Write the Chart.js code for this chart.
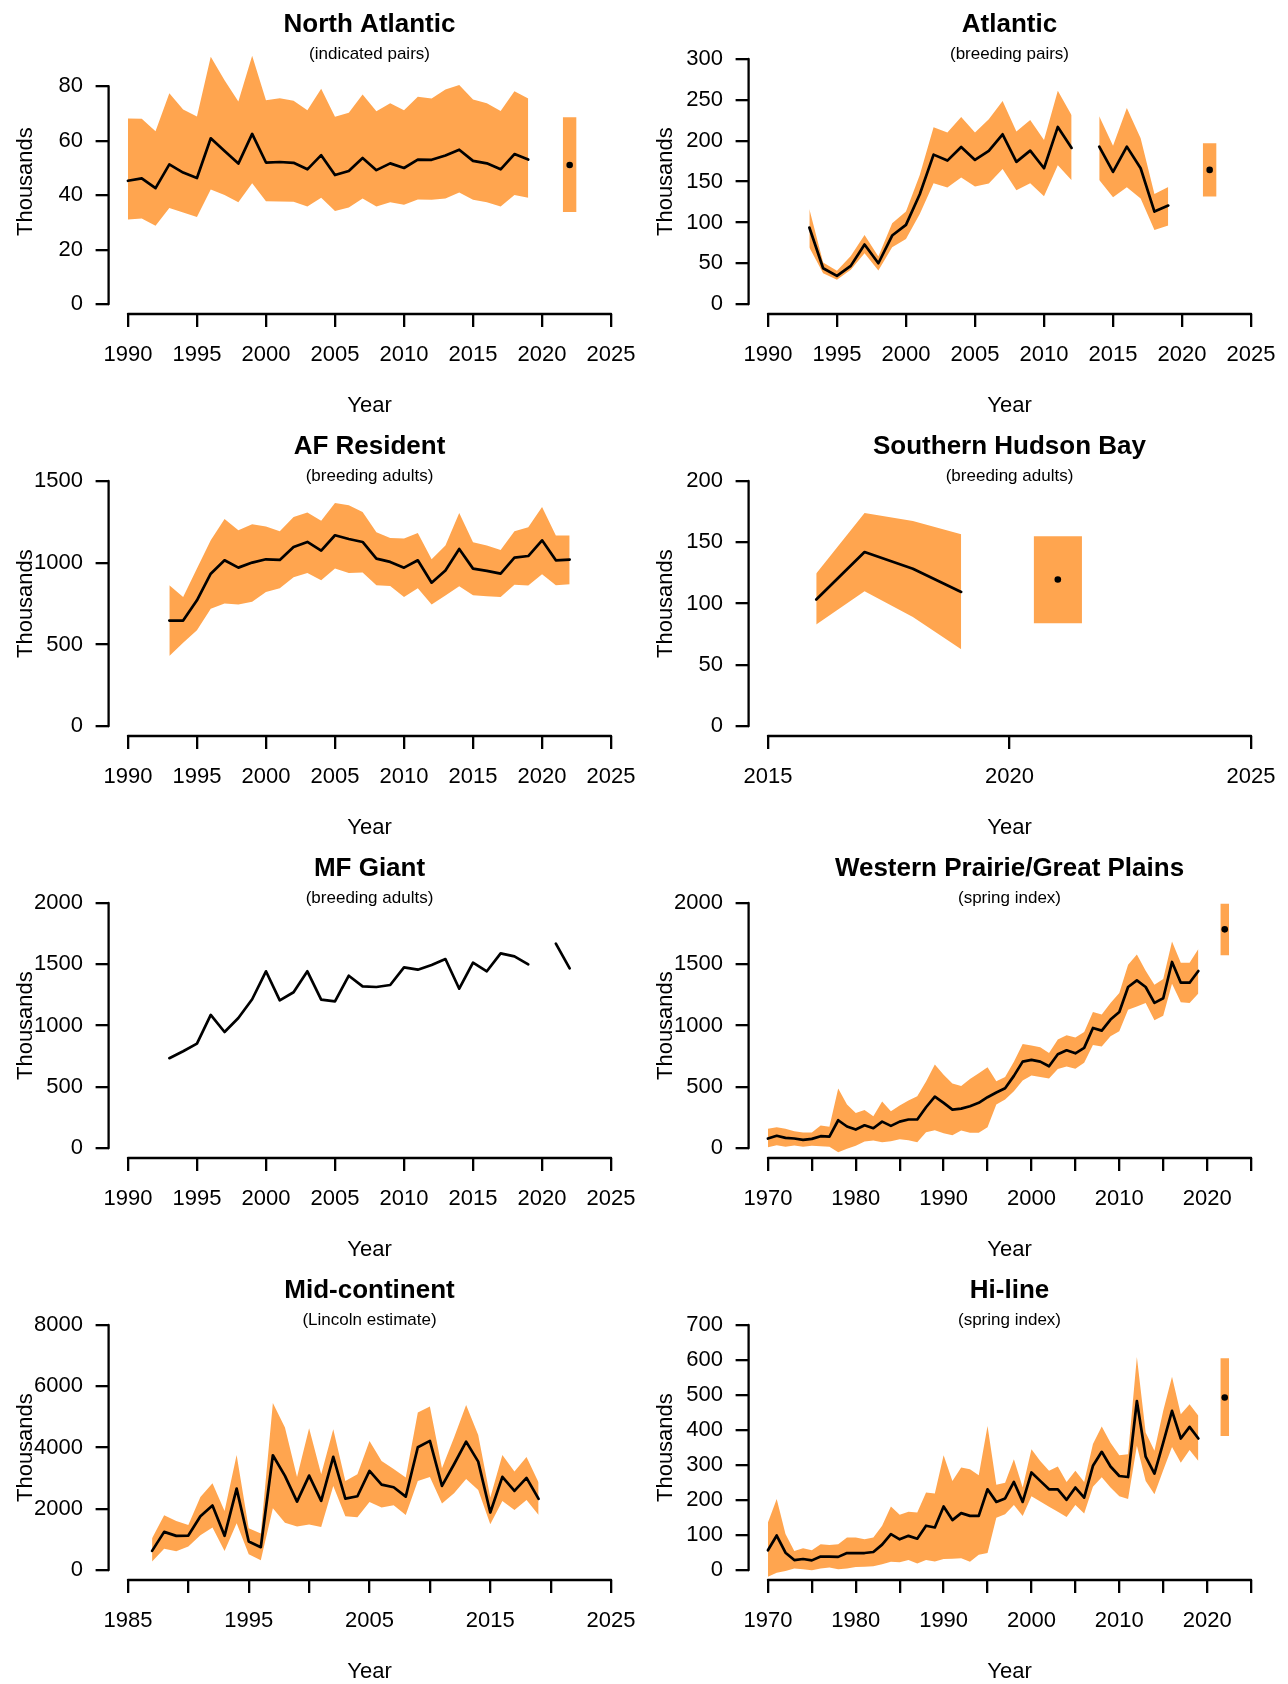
<!DOCTYPE html>
<html>
<head>
<meta charset="utf-8">
<title>Population estimates</title>
<script src="https://cdn.jsdelivr.net/npm/chart.js@4.4.1/dist/chart.umd.min.js"></script>
<style>
  body { margin: 0; background: #fff; }
  #grid { position: relative; width: 1288px; height: 1684px; overflow: hidden; }
  #grid canvas { position: absolute; }
</style>
</head>
<body>
<div id="grid">
  <canvas id="p0" width="644" height="421" style="left:0px;top:0px"></canvas>
  <canvas id="p1" width="644" height="421" style="left:640px;top:0px"></canvas>
  <canvas id="p2" width="644" height="421" style="left:0px;top:422px"></canvas>
  <canvas id="p3" width="644" height="421" style="left:640px;top:422px"></canvas>
  <canvas id="p4" width="644" height="421" style="left:0px;top:844px"></canvas>
  <canvas id="p5" width="644" height="421" style="left:640px;top:844px"></canvas>
  <canvas id="p6" width="644" height="421" style="left:0px;top:1266px"></canvas>
  <canvas id="p7" width="644" height="421" style="left:640px;top:1266px"></canvas>
</div>
<script>
// axis ticks
var xt1990 = [1990, 1995, 2000, 2005, 2010, 2015, 2020, 2025];
var xt2015 = [2015, 2020, 2025];
var xt1970 = [1970, 1975, 1980, 1985, 1990, 1995, 2000, 2005, 2010, 2015, 2020, 2025];
var xl1970 = [1970, 1980, 1990, 2000, 2010, 2020];
var xt1985 = [1985, 1990, 1995, 2000, 2005, 2010, 2015, 2020, 2025];
var xl1985 = [1985, 1995, 2005, 2015, 2025];

// North Atlantic (indicated pairs)
var naYears = [1990, 1991, 1992, 1993, 1994, 1995, 1996, 1997, 1998, 1999, 2000, 2001, 2002, 2003, 2004,
  2005, 2006, 2007, 2008, 2009, 2010, 2011, 2012, 2013, 2014, 2015, 2016, 2017, 2018, 2019];
var naMean = [45.3, 46.2, 42.6, 51.3, 48.3, 46.3, 60.9, 56.2, 51.6, 62.5, 52.0, 52.2, 51.9, 49.5, 54.7,
  47.4, 48.9, 53.7, 49.2, 51.7, 50.0, 53.1, 53.0, 54.6, 56.7, 52.6, 51.7, 49.5, 55.1, 53.1];
var naHigh = [68.2, 68.1, 63.5, 77.4, 71.5, 68.9, 90.8, 82.2, 74.4, 91.2, 74.9, 75.6, 74.7, 71.2, 79.1,
  68.8, 70.3, 77.0, 70.8, 73.8, 71.2, 76.1, 75.5, 78.8, 80.5, 75.1, 73.8, 70.9, 78.2, 75.5];
var naLow = [31.1, 31.5, 28.8, 35.3, 33.7, 32.0, 42.1, 40.1, 37.4, 44.4, 37.8, 37.7, 37.6, 35.9, 39.1,
  34.2, 35.5, 38.8, 35.9, 37.4, 36.5, 38.4, 38.3, 38.8, 41.0, 38.3, 37.4, 35.9, 40.1, 39.1];
var naEst = [2022, 51.1, 33.8, 68.6];
var naYTicks = [0, 20, 40, 60, 80];

// Atlantic (breeding pairs), no survey in 2013
var atYears = [1993, 1994, 1995, 1996, 1997, 1998, 1999, 2000, 2001, 2002, 2003, 2004, 2005, 2006,
  2007, 2008, 2009, 2010, 2011, 2012, 2013, 2014, 2015, 2016, 2017, 2018, 2019];
var atMean = [93.8, 44.0, 34.7, 46.9, 73.0, 50.1, 84.0, 97.0, 134.5, 183.0, 175.7, 192.4, 176.5, 187.5,
  207.9, 174.1, 187.9, 166.3, 216.9, 191.2, null, 192.8, 161.8, 192.8, 166.3, 113.3, 120.7];
var atHigh = [116.6, 51.0, 40.8, 59.1, 84.8, 58.3, 99.1, 113.3, 158.2, 216.5, 210.0, 229.1, 210.0, 226.3,
  248.7, 211.2, 225.4, 201.0, 261.3, 231.1, null, 229.9, 194.0, 240.1, 203.0, 134.9, 143.5];
var atLow = [69.3, 37.9, 29.8, 42.0, 62.4, 41.2, 69.7, 79.9, 110.5, 148.0, 142.7, 154.9, 143.9, 147.6,
  165.5, 139.4, 148.0, 132.1, 170.0, 151.6, null, 152.1, 130.9, 143.1, 129.2, 90.9, 96.2];
var atEst = [2022, 164.3, 131.7, 196.9];
var atYTicks = [0, 50, 100, 150, 200, 250, 300];

// AF Resident (breeding adults)
var afYears = [1993, 1994, 1995, 1996, 1997, 1998, 1999, 2000, 2001, 2002, 2003, 2004, 2005, 2006, 2007,
  2008, 2009, 2010, 2011, 2012, 2013, 2014, 2015, 2016, 2017, 2018, 2019, 2020, 2021, 2022];
var afMean = [646, 646, 770, 933, 1015, 970, 1001, 1021, 1017, 1096, 1127, 1074, 1168, 1145, 1127,
  1025, 1005, 970, 1015, 878, 952, 1084, 964, 950, 933, 1031, 1041, 1137, 1015, 1019];
var afHigh = [862, 791, 965, 1137, 1268, 1198, 1235, 1221, 1192, 1280, 1308, 1257, 1365, 1351, 1310,
  1186, 1151, 1149, 1182, 1021, 1105, 1304, 1125, 1105, 1078, 1192, 1217, 1341, 1166, 1166];
var afLow = [430, 510, 587, 719, 750, 744, 762, 821, 844, 911, 937, 893, 964, 937, 940,
  862, 858, 791, 844, 744, 799, 856, 801, 795, 791, 866, 860, 929, 862, 868];
var afYTicks = [0, 500, 1000, 1500];

// Southern Hudson Bay (breeding adults)
var shYears = [2016, 2017, 2018, 2019];
var shMean = [103.3, 142.1, 128.5, 109.5];
var shHigh = [124.5, 173.9, 167.4, 156.5];
var shLow = [82.9, 110.1, 89.1, 62.8];
var shEst = [2021, 119.6, 84.0, 154.9];
var shYTicks = [0, 50, 100, 150, 200];

// MF Giant (breeding adults), no estimate for 2020
var mfYears = [1993, 1994, 1995, 1996, 1997, 1998, 1999, 2000, 2001, 2002, 2003, 2004, 2005, 2006, 2007,
  2008, 2009, 2010, 2011, 2012, 2013, 2014, 2015, 2016, 2017, 2018, 2019, 2020, 2021, 2022];
var mfMean = [734, 791, 853, 1087, 948, 1062, 1215, 1443, 1206, 1272, 1443, 1212, 1198, 1407, 1320,
  1315, 1331, 1475, 1456, 1494, 1543, 1301, 1513, 1443, 1589, 1565, 1500, null, 1668, 1467];
var mfYTicks = [0, 500, 1000, 1500, 2000];

// Western Prairie/Great Plains (spring index)
var wpYears = [1970, 1971, 1972, 1973, 1974, 1975, 1976, 1977, 1978, 1979,
  1980, 1981, 1982, 1983, 1984, 1985, 1986, 1987, 1988, 1989,
  1990, 1991, 1992, 1993, 1994, 1995, 1996, 1997, 1998, 1999,
  2000, 2001, 2002, 2003, 2004, 2005, 2006, 2007, 2008, 2009,
  2010, 2011, 2012, 2013, 2014, 2015, 2016, 2017, 2018, 2019];
var wpMean = [79, 101, 84, 79, 68, 76, 98, 95, 228, 177,
  152, 187, 163, 217, 182, 217, 234, 234, 334, 421,
  370, 315, 323, 342, 370, 416, 454, 489, 590, 706,
  720, 706, 668, 766, 799, 774, 818, 981, 959, 1049,
  1111, 1315, 1369, 1315, 1185, 1223, 1519, 1350, 1350, 1445];
var wpHigh = [158, 171, 158, 139, 128, 128, 185, 174, 486, 356,
  288, 312, 261, 380, 302, 348, 389, 424, 543, 682,
  600, 527, 508, 565, 611, 660, 546, 581, 706, 850,
  837, 823, 777, 886, 921, 902, 948, 1111, 1090, 1185,
  1266, 1497, 1579, 1448, 1334, 1380, 1687, 1513, 1513, 1625];
var wpLow = [8, 24, 11, 22, 11, 19, 16, 11, -33, -5,
  19, 54, 62, 49, 57, 73, 65, 49, 130, 147,
  122, 106, 144, 125, 125, 171, 356, 397, 465, 552,
  592, 581, 568, 647, 666, 649, 696, 842, 829, 913,
  954, 1130, 1155, 1185, 1043, 1081, 1342, 1190, 1185, 1261];
var wpEst = [2022, 1785, 1573, 1994];
var wpYTicks = [0, 500, 1000, 1500, 2000];

// Mid-continent (Lincoln estimate)
var mcYears = [1987, 1988, 1989, 1990, 1991, 1992, 1993, 1994, 1995, 1996, 1997, 1998, 1999, 2000, 2001,
  2002, 2003, 2004, 2005, 2006, 2007, 2008, 2009, 2010, 2011, 2012, 2013, 2014, 2015, 2016, 2017, 2018, 2019];
var mcMean = [630, 1250, 1120, 1130, 1761, 2109, 1120, 2663, 935, 750, 3750, 3076, 2239, 3087, 2261,
  3696, 2337, 2413, 3239, 2794, 2707, 2402, 4011, 4218, 2750, 3457, 4196, 3544, 1881, 3044, 2587, 3011, 2326];
var mcHigh = [1044, 1794, 1609, 1478, 2391, 2837, 1935, 3761, 1370, 1196, 5457, 4652, 3044, 4631, 3131,
  4598, 2913, 3131, 4218, 3565, 3304, 3022, 5142, 5337, 3326, 4326, 5392, 4413, 2370, 3761, 3218, 3696, 2859];
var mcLow = [283, 696, 620, 772, 1141, 1391, 630, 1533, 522, 326, 2022, 1544, 1424, 1489, 1413,
  2750, 1761, 1728, 2228, 2044, 2120, 1804, 2913, 3044, 2174, 2511, 2978, 2620, 1500, 2261, 1967, 2294, 1804];
var mcYTicks = [0, 2000, 4000, 6000, 8000];

// Hi-line (spring index)
var hlYears = wpYears;
var hlMean = [57, 99, 50, 29, 32, 28, 39, 39, 38, 49,
  49, 49, 52, 73, 103, 88, 98, 90, 127, 122,
  182, 143, 163, 155, 155, 231, 195, 205, 252, 195,
  279, 255, 231, 231, 201, 236, 207, 298, 338, 296,
  269, 266, 483, 324, 276, 364, 455, 376, 409, 376];
var hlHigh = [136, 203, 103, 55, 63, 57, 74, 72, 74, 93,
  93, 88, 93, 127, 182, 158, 167, 165, 222, 219,
  328, 255, 293, 288, 271, 412, 244, 250, 317, 236,
  345, 312, 284, 296, 252, 284, 252, 360, 410, 364,
  328, 331, 609, 393, 341, 455, 552, 445, 474, 441];
var hlLow = [-19, -7, -2, 5, 3, 0, 5, 8, 3, 5,
  9, 10, 11, 17, 24, 23, 29, 19, 29, 25,
  32, 33, 34, 24, 44, 49, 150, 160, 186, 155,
  211, 196, 181, 167, 152, 186, 162, 238, 265, 236,
  211, 203, 355, 255, 217, 285, 352, 307, 343, 312];
var hlEst = [2022, 493, 383, 605];
var hlYTicks = [0, 100, 200, 300, 400, 500, 600, 700];

var ORANGE = '#FFA54F';
var FONT = '"Liberation Sans", Arial, Helvetica, sans-serif';

var panels = [
  { title: 'North Atlantic', sub: '(indicated pairs)', years: naYears, mean: naMean, high: naHigh, low: naLow,
    est: naEst, xTicks: xt1990, xLabels: xt1990, yTicks: naYTicks, yTop: 90 },
  { title: 'Atlantic', sub: '(breeding pairs)', years: atYears, mean: atMean, high: atHigh, low: atLow,
    est: atEst, xTicks: xt1990, xLabels: xt1990, yTicks: atYTicks, yTop: 300 },
  { title: 'AF Resident', sub: '(breeding adults)', years: afYears, mean: afMean, high: afHigh, low: afLow,
    xTicks: xt1990, xLabels: xt1990, yTicks: afYTicks, yTop: 1500 },
  { title: 'Southern Hudson Bay', sub: '(breeding adults)', years: shYears, mean: shMean, high: shHigh, low: shLow,
    est: shEst, xTicks: xt2015, xLabels: xt2015, yTicks: shYTicks, yTop: 200 },
  { title: 'MF Giant', sub: '(breeding adults)', years: mfYears, mean: mfMean,
    xTicks: xt1990, xLabels: xt1990, yTicks: mfYTicks, yTop: 2000 },
  { title: 'Western Prairie/Great Plains', sub: '(spring index)', years: wpYears, mean: wpMean, high: wpHigh, low: wpLow,
    est: wpEst, xTicks: xt1970, xLabels: xl1970, yTicks: wpYTicks, yTop: 2000 },
  { title: 'Mid-continent', sub: '(Lincoln estimate)', years: mcYears, mean: mcMean, high: mcHigh, low: mcLow,
    xTicks: xt1985, xLabels: xl1985, yTicks: mcYTicks, yTop: 8000 },
  { title: 'Hi-line', sub: '(spring index)', years: hlYears, mean: hlMean, high: hlHigh, low: hlLow,
    est: hlEst, xTicks: xt1970, xLabels: xl1970, yTicks: hlYTicks, yTop: 700 }
];

function pts(xs, ys) {
  return xs.map(function (x, i) { return { x: x, y: ys[i] }; });
}

// axis lines that stop at the outer ticks, plus panel titles and axis names
var panelText = {
  id: 'panelText',
  afterDraw: function (chart, args, opts) {
    var ctx = chart.ctx, a = chart.chartArea;
    var sx = chart.scales.x, sy = chart.scales.y;
    var xt = sx.ticks, yt = sy.ticks;
    var cx = (a.left + a.right) / 2;
    ctx.save();
    ctx.strokeStyle = '#000';
    ctx.lineWidth = 2.3;
    ctx.lineCap = 'round';
    ctx.beginPath();
    ctx.moveTo(sx.getPixelForValue(xt[0].value), a.bottom);
    ctx.lineTo(sx.getPixelForValue(xt[xt.length - 1].value), a.bottom);
    ctx.moveTo(a.left, sy.getPixelForValue(yt[0].value));
    ctx.lineTo(a.left, sy.getPixelForValue(yt[yt.length - 1].value));
    ctx.stroke();

    ctx.fillStyle = '#000';
    ctx.textAlign = 'center';
    ctx.textBaseline = 'alphabetic';
    ctx.font = 'bold 26px ' + FONT;
    ctx.fillText(opts.title, cx, 31.5);
    ctx.font = '17px ' + FONT;
    ctx.fillText(opts.sub, cx, 58.5);
    ctx.font = '22px ' + FONT;
    ctx.fillText('Year', cx, 412);
    ctx.translate(31.5, (a.top + a.bottom) / 2);
    ctx.rotate(-Math.PI / 2);
    ctx.fillText('Thousands', 0, 0);
    ctx.restore();
  }
};

function makePanel(id, p) {
  var datasets = [];
  var hidden = 'rgba(0,0,0,0)';
  datasets.push({
    data: pts(p.years, p.mean), borderColor: '#000', borderWidth: 2.7,
    borderJoinStyle: 'round', borderCapStyle: 'round', pointRadius: 0, fill: false
  });
  if (p.est) {
    datasets.push({
      data: [{ x: p.est[0], y: p.est[1] }], showLine: false,
      pointRadius: 3.3, pointBackgroundColor: '#000', pointBorderWidth: 0
    });
  }
  if (p.low) {
    datasets.push({ data: pts(p.years, p.low), borderColor: hidden, borderWidth: 0, pointRadius: 0, fill: false });
    datasets.push({ data: pts(p.years, p.high), borderColor: hidden, borderWidth: 0, pointRadius: 0,
      fill: '-1', backgroundColor: ORANGE });
  }
  if (p.est) {
    // interval box, one year wide, around the latest estimate
    var yr = p.est[0];
    datasets.push({ data: [{ x: yr - 0.5, y: p.est[2] }, { x: yr + 0.5, y: p.est[2] }],
      borderColor: hidden, borderWidth: 0, pointRadius: 0, fill: false });
    datasets.push({ data: [{ x: yr - 0.5, y: p.est[3] }, { x: yr + 0.5, y: p.est[3] }],
      borderColor: hidden, borderWidth: 0, pointRadius: 0, fill: '-1', backgroundColor: ORANGE });
  }

  var x0 = p.xTicks[0], x1 = p.xTicks[p.xTicks.length - 1];
  var tickFont = { family: FONT, size: 22 };
  var grid = { drawOnChartArea: false, drawTicks: true, tickLength: 13, tickWidth: 2.3,
    tickColor: '#000', color: '#000', lineWidth: 2.3 };

  return new Chart(document.getElementById(id).getContext('2d'), {
    type: 'line',
    data: { datasets: datasets },
    options: {
      responsive: false,
      animation: false,
      events: [],
      layout: { autoPadding: false, padding: { left: 0, right: 13.6, top: 49.2, bottom: 0 } },
      scales: {
        x: {
          type: 'linear',
          min: x0 - 0.04 * (x1 - x0),
          max: x1 + 0.04 * (x1 - x0),
          afterBuildTicks: function (s) { s.ticks = p.xTicks.map(function (v) { return { value: v }; }); },
          afterFit: function (s) { s.height = 107; s.paddingLeft = 0; s.paddingRight = 0; },
          ticks: {
            autoSkip: false, maxRotation: 0, minRotation: 0, padding: 14.5, color: '#000', font: tickFont,
            callback: function (v) { return p.xLabels.indexOf(v) >= 0 ? String(v) : ''; }
          },
          grid: grid,
          border: { display: false }
        },
        y: {
          min: -0.04 * p.yTop,
          max: 1.04 * p.yTop,
          afterBuildTicks: function (s) { s.ticks = p.yTicks.map(function (v) { return { value: v }; }); },
          afterFit: function (s) { s.width = 108.6; s.paddingTop = 0; s.paddingBottom = 0; },
          ticks: {
            padding: 12.6, color: '#000', font: tickFont,
            callback: function (v) { return String(v); }
          },
          grid: grid,
          border: { display: false }
        }
      },
      plugins: {
        legend: { display: false },
        tooltip: { enabled: false },
        filler: { propagate: false },
        panelText: { title: p.title, sub: p.sub }
      }
    },
    plugins: [panelText]
  });
}

window.onload = function () {
  panels.forEach(function (p, i) {
    makePanel('p' + i, p);
  });
};
</script>
</body>
</html>
